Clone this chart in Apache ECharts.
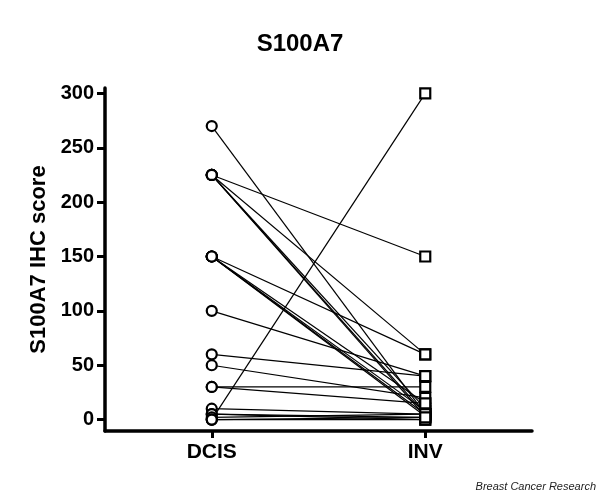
<!DOCTYPE html>
<html>
<head>
<meta charset="utf-8">
<script src="https://cdn.jsdelivr.net/npm/echarts@6/dist/echarts.min.js"></script>
<style>
  html, body { margin: 0; padding: 0; background: #fff; }
  #chart { width: 600px; height: 498px; }
</style>
</head>
<body>
<div id="chart"></div>
<script>
// paired scores, one entry per patient
const groups = ['DCIS', 'INV'];
const dcis = [0, 270, 225, 225, 225, 225, 225, 150, 150, 150, 150, 150, 100, 60, 50, 30, 30, 10, 5, 5, 2, 0, 0];
const inv  = [300, 5, 150, 60, 5, 3, 10, 60, 5, 3, 8, 15, 40, 40, 20, 30, 15, 5, 2, 0, 5, 0, 2];
const yTicks = [0, 50, 100, 150, 200, 250, 300];

const chart = echarts.init(document.getElementById('chart'));

// one line per patient
const lines = dcis.map((d, i) => ({
  type: 'line',
  data: [[1, d], [2, inv[i]]],
  showSymbol: false,
  symbol: 'none',
  lineStyle: { color: '#000', width: 1.2, opacity: 1 },
  silent: true,
  z: 2
}));

const marker = {
  color: '#fff',
  borderColor: '#000',
  borderWidth: 2.2,
  opacity: 1
};

chart.setOption({
  backgroundColor: '#fff',
  animation: false,
  title: {
    text: 'S100A7',
    left: 'center',
    top: 27,
    textStyle: { fontFamily: 'Liberation Sans', fontWeight: 'bold', fontSize: 24, color: '#000' }
  },
  graphic: [{
    type: 'text',
    right: 4,
    bottom: 6,
    style: {
      text: 'Breast Cancer Research',
      font: 'italic 11px "Liberation Sans"',
      fill: '#222'
    }
  }],
  grid: { left: 105, right: 68, top: 88, bottom: 67 },
  xAxis: {
    type: 'value',
    min: 0.5,
    max: 2.5,
    splitLine: { show: false },
    axisLine: { onZero: false, lineStyle: { color: '#000', width: 3.5 } },
    axisTick: { customValues: [1, 2], length: 7, lineStyle: { color: '#000', width: 3 } },
    axisLabel: {
      customValues: [1, 2],
      formatter: v => groups[Math.round(v) - 1],
      fontFamily: 'Liberation Sans', fontWeight: 'bold', fontSize: 21, color: '#000', margin: 11
    }
  },
  yAxis: {
    type: 'value',
    min: -10.5,
    max: 305,
    name: 'S100A7 IHC score',
    nameLocation: 'middle',
    nameGap: 55,
    nameTextStyle: { fontFamily: 'Liberation Sans', fontWeight: 'bold', fontSize: 22, color: '#000' },
    splitLine: { show: false },
    axisLine: { show: true, onZero: false, lineStyle: { color: '#000', width: 3.5 } },
    axisTick: { show: true, customValues: yTicks, length: 8, lineStyle: { color: '#000', width: 3 } },
    axisLabel: {
      customValues: yTicks,
      fontFamily: 'Liberation Sans', fontWeight: 'bold', fontSize: 20, color: '#000', margin: 11
    }
  },
  series: [
    ...lines,
    {
      type: 'scatter',
      data: dcis.map(d => [1, d]),
      symbol: 'circle',
      symbolSize: 10,
      itemStyle: marker,
      z: 5
    },
    {
      type: 'scatter',
      data: inv.map(v => [2, v]),
      symbol: 'rect',
      symbolSize: 10,
      itemStyle: marker,
      z: 5
    }
  ]
});
</script>
</body>
</html>
